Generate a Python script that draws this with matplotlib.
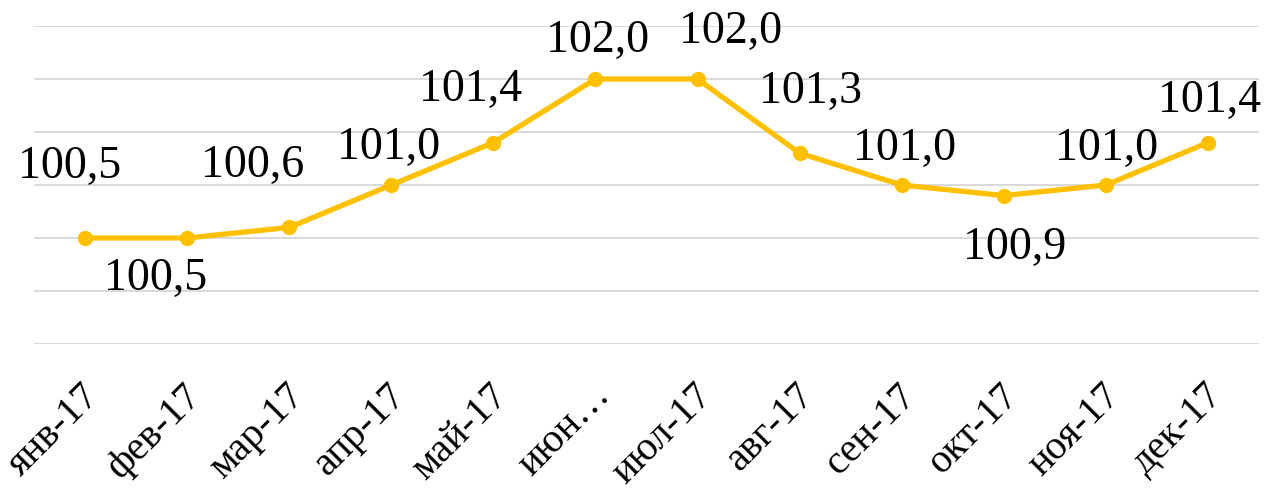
import matplotlib.pyplot as plt
import matplotlib.transforms as mtransforms

months = ["янв-17", "фев-17", "мар-17", "апр-17", "май-17", "июн…",
          "июл-17", "авг-17", "сен-17", "окт-17", "ноя-17", "дек-17"]
values = [100.5, 100.5, 100.6, 101.0, 101.4, 102.0,
          102.0, 101.3, 101.0, 100.9, 101.0, 101.4]

# label offsets in pixels (dx, dy) from each point, baseline anchored
label_dx = [-15, -32, -37, -3, -23, 2, 33, 11, 3, 11, 1, 2]
label_dy = [60, -52, 50, 26, 42, 27, 36, 50, 25, -63, 25, 31]

plt.rcParams['font.family'] = ['Liberation Serif', 'DejaVu Serif']

fig = plt.figure(figsize=(12.68, 4.90), dpi=100)
ax = fig.add_axes([34 / 1268, 1 - 344 / 490, 1225 / 1268, 318 / 490])

x = list(range(len(months)))
ax.plot(x, values, color='#FFC000', lw=3.8, marker='o', ms=10, zorder=3)

for i, v in enumerate(values):
    ax.annotate(f"{v:.1f}".replace('.', ','), (i, v),
                xytext=(label_dx[i], label_dy[i]), textcoords='offset pixels',
                ha='center', va='baseline', fontsize=33, color='black')

ax.set_xlim(-0.5, 11.5)
ax.set_ylim(99.5, 102.5)
ax.set_yticks([99.5, 100.0, 100.5, 101.0, 101.5, 102.0, 102.5])
ax.grid(axis='y', color='#D9D9D9', lw=1.4)
ax.set_axisbelow(True)
ax.tick_params(axis='y', left=False, labelleft=False)
ax.tick_params(axis='x', length=0, pad=8)
ax.set_xticks(x)
ax.set_xticklabels(months, rotation=45, ha='right', rotation_mode='anchor',
                   fontsize=29)
shift = mtransforms.ScaledTranslation(-4 / 100, -22 / 100, fig.dpi_scale_trans)
for lbl in ax.get_xticklabels():
    lbl.set_transform(lbl.get_transform() + shift)
for s in ax.spines.values():
    s.set_visible(False)

fig.savefig('out.png', dpi=100)
